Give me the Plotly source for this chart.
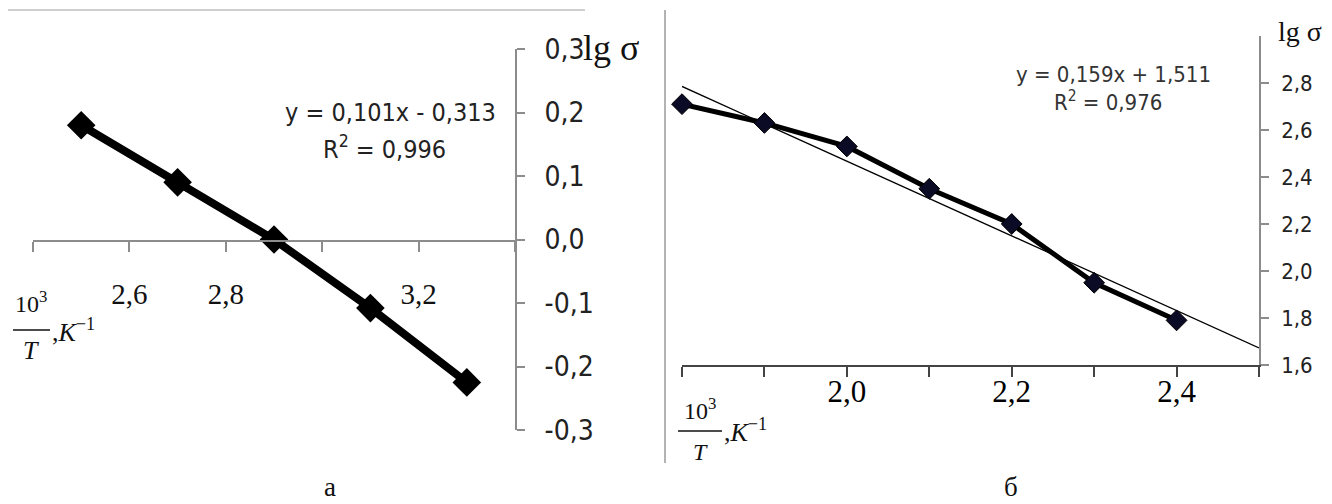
import numpy as np
import plotly.graph_objects as go

# ---------------- data: chart "а" ----------------
xa = [2.5, 2.7, 2.9, 3.1, 3.3]
ya = [0.18, 0.09, 0.0, -0.108, -0.225]
xa_ticks = [2.4, 2.6, 2.8, 3.0, 3.2, 3.4]
xa_ticktext = ["", "2,6", "2,8", "", "3,2", ""]
ya_ticks = [-0.3, -0.2, -0.1, 0.0, 0.1, 0.2, 0.3]
ya_ticktext = ["-0,3", "-0,2", "-0,1", "0,0", "0,1", "0,2", "0,3"]
eq_a = "y = 0,101x - 0,313"
r2_a = "R<sup>2</sup> = 0,996"

# ---------------- data: chart "б" ----------------
xb = [1.8, 1.9, 2.0, 2.1, 2.2, 2.3, 2.4]
yb = [2.71, 2.63, 2.53, 2.35, 2.20, 1.95, 1.79]
xb_ticks = [1.8, 1.9, 2.0, 2.1, 2.2, 2.3, 2.4, 2.5]
xb_ticktext = ["", "", "2,0", "", "2,2", "", "2,4", ""]
yb_ticks = [1.6, 1.8, 2.0, 2.2, 2.4, 2.6, 2.8]
yb_ticktext = ["1,6", "1,8", "2,0", "2,2", "2,4", "2,6", "2,8"]
eq_b = "y = 0,159x + 1,511"
r2_b = "R<sup>2</sup> = 0,976"

xa_range = [2.4, 3.4]
ya_range = [-0.3, 0.3]
xb_range = [1.8, 2.5]
yb_range = [1.6, 3.0]

# linear trend line for chart б (least squares over the data)
fit_b = np.polyfit(xb, yb, 1)
trend_x = np.array(xb_range)
trend_y = np.polyval(fit_b, trend_x)

# page has an 8px body margin: figure occupies page pixels 8..1332 / 8..504
OFF = 8
W, H = 1332 - OFF, 504 - OFF
def PX(px):
    return (px - OFF) / W
def PY(py):
    return 1 - (py - OFF) / H

SANS = "Liberation Sans Narrow, DejaVu Sans Condensed, Open Sans, sans-serif"
SERIF = "Liberation Serif, DejaVu Serif, serif"

fig = go.Figure()

fig.add_trace(go.Scatter(
    x=xa, y=ya, mode="lines+markers", xaxis="x", yaxis="y",
    line=dict(color="black", width=8),
    marker=dict(symbol="diamond", size=22, color="black"),
    cliponaxis=False,
    showlegend=False, hoverinfo="skip"))

fig.add_trace(go.Scatter(
    x=trend_x, y=trend_y, mode="lines", xaxis="x2", yaxis="y2",
    line=dict(color="black", width=1.3),
    showlegend=False, hoverinfo="skip"))

fig.add_trace(go.Scatter(
    x=xb, y=yb, mode="lines+markers", xaxis="x2", yaxis="y2",
    line=dict(color="black", width=5),
    marker=dict(symbol="diamond", size=16, color="#0b0b26",
                line=dict(color="black", width=1)),
    cliponaxis=False,
    showlegend=False, hoverinfo="skip"))

ya_dom = [PY(430), PY(49)]
yb_dom = [PY(365), PY(36)]

fig.update_layout(
    width=W, height=H,
    margin=dict(l=0, r=0, t=0, b=0, autoexpand=False),
    paper_bgcolor="white", plot_bgcolor="white",
    xaxis=dict(domain=[PX(33), PX(515)], range=xa_range, anchor="free",
               position=PY(241), automargin=False,
               tickvals=xa_ticks, ticktext=xa_ticktext,
               ticks="outside", ticklen=10, tickwidth=2, tickcolor="#8c8c8c",
               showline=True, linecolor="#8c8c8c", linewidth=2,
               showgrid=False, zeroline=False,
               ticklabelstandoff=17,
               tickfont=dict(family=SERIF, size=29, color="#111")),
    yaxis=dict(domain=ya_dom, range=ya_range, anchor="x", side="right",
               automargin=False,
               tickvals=ya_ticks, ticktext=ya_ticktext,
               ticks="outside", ticklen=8, tickwidth=2, tickcolor="#8c8c8c",
               showline=True, linecolor="#8c8c8c", linewidth=2,
               showgrid=False, zeroline=False,
               ticklabelstandoff=14,
               tickfont=dict(family=SANS, size=28, color="#222")),
    xaxis2=dict(domain=[PX(682), PX(1259)], range=xb_range, anchor="y2",
                automargin=False,
                tickvals=xb_ticks, ticktext=xb_ticktext,
                ticks="outside", ticklen=10, tickwidth=2, tickcolor="#444",
                showline=True, linecolor="#444", linewidth=2,
                showgrid=False, zeroline=False,
                ticklabelstandoff=-12,
                tickfont=dict(family=SERIF, size=31, color="#000")),
    yaxis2=dict(domain=yb_dom, range=yb_range, anchor="x2", side="right",
                automargin=False,
                tickvals=yb_ticks, ticktext=yb_ticktext,
                ticks="outside", ticklen=8, tickwidth=1.5, tickcolor="#8c8c8c",
                showline=True, linecolor="#8c8c8c", linewidth=1.5,
                showgrid=False, zeroline=False,
                ticklabelstandoff=8,
                tickfont=dict(family=SANS, size=22, color="#222")),
)

def ann(text, x, y, size, family, xanchor="center", color="#222"):
    fig.add_annotation(text=text, x=PX(x), y=PY(y), xref="paper", yref="paper",
                       xanchor=xanchor, yanchor="middle", showarrow=False,
                       font=dict(family=family, size=size, color=color))

# equations
ann(eq_a, 390, 112, 25, SANS)
ann(r2_a, 384, 147, 25, SANS)
ann(eq_b, 1113, 75, 22, SANS, color="#333")
ann(r2_b, 1108, 101, 22, SANS, color="#333")

# axis titles lg σ
ann("lg σ", 581, 48, 36, SERIF, xanchor="left", color="#111")
ann("lg σ", 1276, 32, 28, SERIF, xanchor="left", color="#111")

# fraction labels 10^3 / T , K^-1
ann("10<sup>3</sup>", 31, 302, 24, SERIF, color="#111")
ann("<i>T</i>", 31, 350, 26, SERIF, color="#111")
ann(",<i>K</i><sup>−1</sup>", 50, 330, 26, SERIF, xanchor="left", color="#111")
ann("10<sup>3</sup>", 700, 409, 24, SERIF, color="#111")
ann("<i>T</i>", 700, 452, 24, SERIF, color="#111")
ann(",<i>K</i><sup>−1</sup>", 722, 430, 26, SERIF, xanchor="left", color="#111")

# panel captions
ann("а", 330, 487, 27, SERIF, color="#111")
ann("б", 1011, 487, 27, SERIF, color="#111")

shapes = [
    dict(type="line", xref="paper", yref="paper", x0=PX(13), x1=PX(50), y0=PY(330), y1=PY(330),
         line=dict(color="#111", width=1.5)),
    dict(type="line", xref="paper", yref="paper", x0=PX(678), x1=PX(722), y0=PY(431), y1=PY(431),
         line=dict(color="#111", width=1.5)),
    dict(type="line", xref="paper", yref="paper", x0=0, x1=PX(585), y0=PY(10), y1=PY(10),
         line=dict(color="#cfcfcf", width=2)),
    dict(type="line", xref="paper", yref="paper", x0=PX(665), x1=PX(665), y0=PY(10), y1=PY(463),
         line=dict(color="#9a9a9a", width=1.5)),
]
fig.update_layout(shapes=shapes)

fig.write_html("out.html")
